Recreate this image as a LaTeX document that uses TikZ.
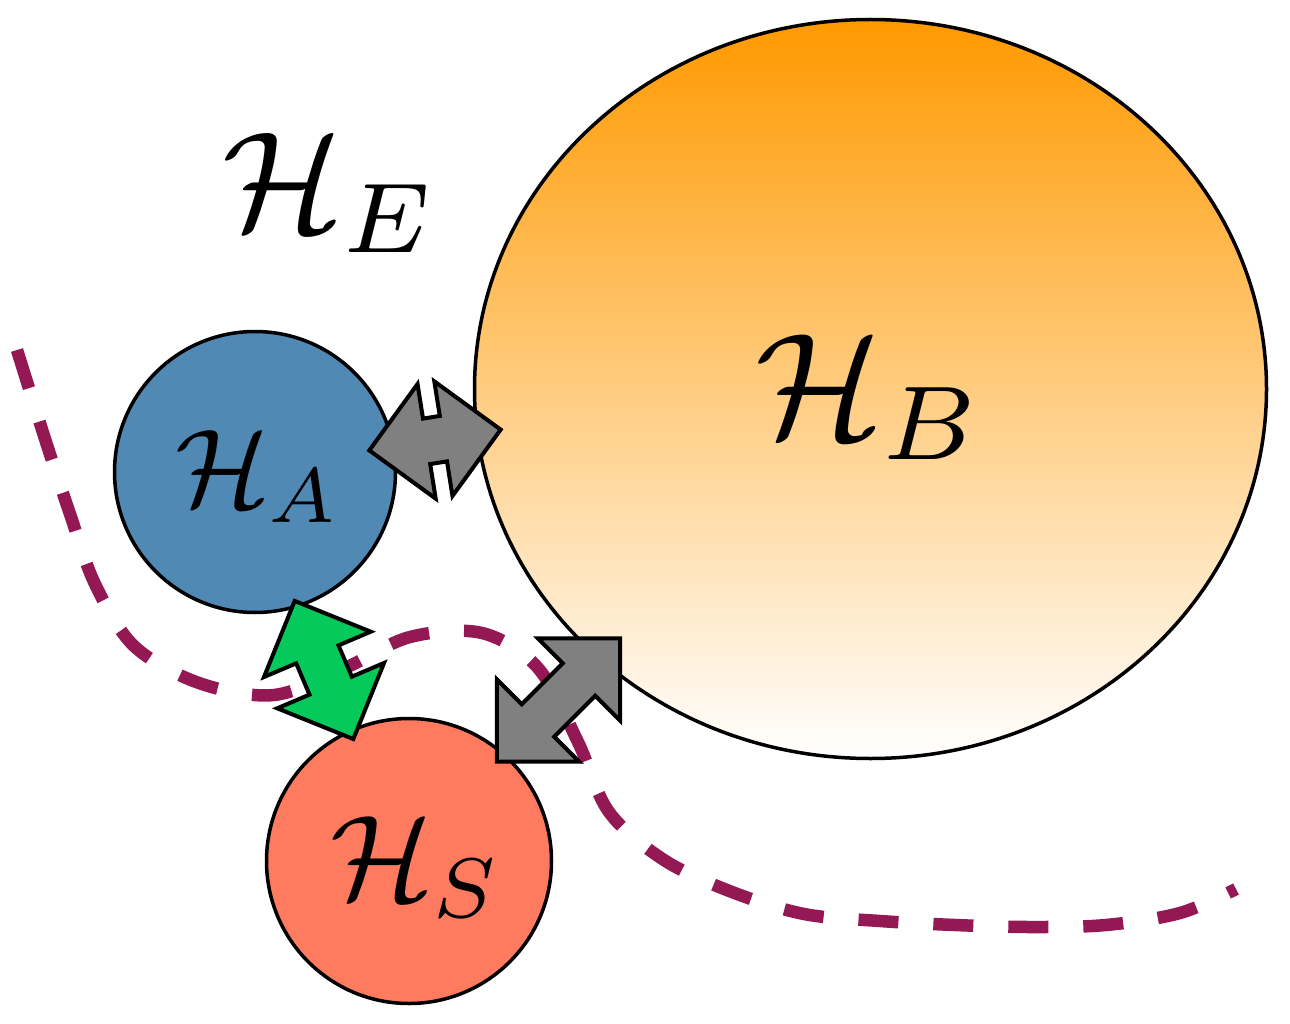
\documentclass[tikz,border=0pt]{standalone}
\usepackage{graphicx}
\usetikzlibrary{shapes.geometric,shapes.arrows}
\definecolor{dashcol}{RGB}{148,24,84}
\definecolor{borange}{RGB}{255,153,0}
\definecolor{ablue}{RGB}{80,137,180}
\definecolor{ssalmon}{RGB}{255,123,96}
\definecolor{agreen}{RGB}{6,201,92}
\definecolor{agray}{RGB}{128,128,128}
\begin{document}
\begin{tikzpicture}[x=1pt,y=-1pt,
  ball/.style={circle,draw=black,line width=3.5pt,inner sep=0pt},
  lbl/.style={inner sep=0pt,anchor=base west},
  blockarrow/.style={double arrow,draw=black,line width=4pt,inner xsep=0pt,inner ysep=21pt,
    double arrow head extend=35pt,double arrow tip angle=90,minimum width=0pt},
  boundary/.style={draw=dashcol,line width=12.5pt,dash pattern=on 40pt off 35pt}]
\useasboundingbox (0,0) rectangle (1290,1024);
% dashed boundary
\draw[boundary] plot[smooth,tension=0.55] coordinates {(17,350) (46,442) (70,514) (95,584) (134,646) (199,683) (274,695) (345,668) (410,637) (482,633) (538,668) (578,742) (609,812) (664,860) (732,892) (804,914) (880,921) (955,925) (1030,927) (1106,925) (1180,913) (1236,889)};
% subsystems
\node[ellipse,draw=black,line width=3.5pt,minimum width=792pt,minimum height=739pt,inner sep=0pt,
  top color=borange,bottom color=white] (B) at (870.5,389) {};
\node[ball,fill=ablue,minimum size=281pt] (A) at (255,472) {};
\node[ball,fill=ssalmon,minimum size=285pt] (S) at (409,861) {};
% labels
\node[lbl] (lE) at (222,231) {\scalebox{14.2}{$\mathcal{H}_E$}};
\node[lbl] (lB) at (755,437) {\scalebox{15}{$\mathcal{H}_B$}};
\node[lbl] (lA) at (175,506) {\scalebox{11.1}{$\mathcal{H}_A$}};
\node[lbl] (lS) at (330,899) {\scalebox{12.1}{$\mathcal{H}_S$}};
% couplings
\node[blockarrow,fill=agray,minimum height=133pt,rotate=9] (AB) at (435,440) {};
\node[blockarrow,fill=agreen,minimum height=150pt,rotate=-67] (AS) at (324,670) {};
\node[blockarrow,fill=agray,minimum height=174pt,rotate=45] (SB) at (558.5,700) {};
\end{tikzpicture}
\end{document}
